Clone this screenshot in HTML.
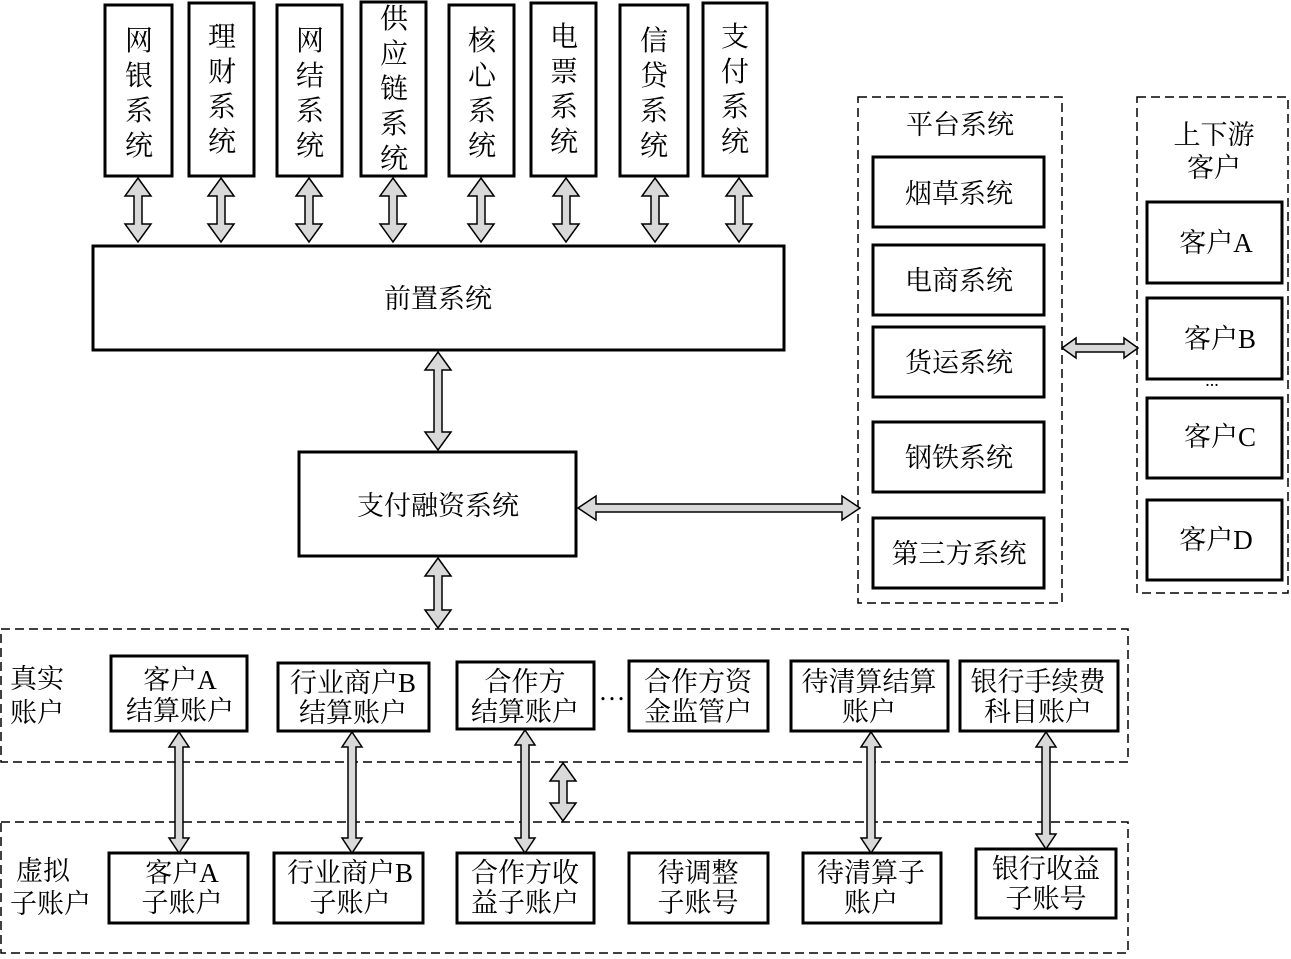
<!DOCTYPE html>
<html><head><meta charset="utf-8"><style>
body{margin:0;background:#fff}
svg text{font-family:"Liberation Serif","Noto Serif CJK SC",serif;fill:#000}
</style></head><body>
<svg width="1291" height="954" viewBox="0 0 1291 954" xmlns="http://www.w3.org/2000/svg">
<g fill="#fff" stroke="#000" stroke-width="3">
<rect x="105" y="5" width="67" height="171"/>
<rect x="189" y="3" width="65" height="173"/>
<rect x="277" y="5" width="65" height="171"/>
<rect x="361" y="2" width="65" height="174"/>
<rect x="449" y="5" width="65" height="171"/>
<rect x="531" y="3" width="65" height="173"/>
<rect x="620" y="5" width="68" height="171"/>
<rect x="703" y="3" width="64" height="173"/>
<rect x="93" y="246" width="691" height="104"/>
<rect x="299" y="452" width="277" height="104"/>
<rect x="873" y="157" width="171" height="70"/>
<rect x="873" y="245" width="171" height="70"/>
<rect x="873" y="327" width="171" height="70"/>
<rect x="873" y="422" width="171" height="70"/>
<rect x="873" y="518" width="171" height="70"/>
<rect x="1147" y="202" width="135" height="81"/>
<rect x="1147" y="298" width="135" height="81"/>
<rect x="1147" y="398" width="135" height="80"/>
<rect x="1147" y="500" width="135" height="80"/>
<rect x="111" y="656" width="136" height="75"/>
<rect x="278" y="663" width="151" height="68"/>
<rect x="457" y="662" width="137" height="67"/>
<rect x="629" y="661" width="139" height="70"/>
<rect x="791" y="661" width="157" height="70"/>
<rect x="960" y="661" width="158" height="70"/>
<rect x="109" y="853" width="139" height="70"/>
<rect x="274" y="853" width="149" height="70"/>
<rect x="457" y="853" width="137" height="70"/>
<rect x="629" y="853" width="139" height="70"/>
<rect x="803" y="853" width="138" height="70"/>
<rect x="976" y="849" width="140" height="69"/>
</g>
<g fill="none" stroke="#000" stroke-width="1.5" stroke-dasharray="9,5">
<rect x="858" y="97" width="204" height="506"/>
<rect x="1137" y="97" width="151" height="496"/>
<rect x="1" y="629" width="1127" height="133"/>
<rect x="1" y="822" width="1127" height="131"/>
</g>
<g fill="#d9d9d9" stroke="#000" stroke-width="1.5">
<!-- vertical arrows: cx, y1, y2 -->
<polygon points="138,178 151,196 142,196 142,224 151,224 138,242 125,224 134,224 134,196 125,196"/>
<polygon points="221,178 234,196 225,196 225,224 234,224 221,242 208,224 217,224 217,196 208,196"/>
<polygon points="309,178 322,196 313,196 313,224 322,224 309,242 296,224 305,224 305,196 296,196"/>
<polygon points="393,178 406,196 397,196 397,224 406,224 393,242 380,224 389,224 389,196 380,196"/>
<polygon points="481,178 494,196 485,196 485,224 494,224 481,242 468,224 477,224 477,196 468,196"/>
<polygon points="566,178 579,196 570,196 570,224 579,224 566,242 553,224 562,224 562,196 553,196"/>
<polygon points="655,178 668,196 659,196 659,224 668,224 655,242 642,224 651,224 651,196 642,196"/>
<polygon points="739,178 752,196 743,196 743,224 752,224 739,242 726,224 735,224 735,196 726,196"/>
<polygon points="438,352 451,370 442,370 442,432 451,432 438,450 425,432 434,432 434,370 425,370"/>
<polygon points="438,558 451,576 442,576 442,610 451,610 438,628 425,610 434,610 434,576 425,576"/>
<polygon points="179,732 189,747 183,747 183,838 189,838 179,853 169,838 175,838 175,747 169,747"/>
<polygon points="352,732 362,747 356,747 356,838 362,838 352,853 342,838 348,838 348,747 342,747"/>
<polygon points="525,730 535,745 529,745 529,838 535,838 525,853 515,838 521,838 521,745 515,745"/>
<polygon points="871,732 881,747 875,747 875,838 881,838 871,853 861,838 867,838 867,747 861,747"/>
<polygon points="1046,732 1056,747 1050,747 1050,834 1056,834 1046,849 1036,834 1042,834 1042,747 1036,747"/>
<polygon points="563,763 576,781 567,781 567,803 576,803 563,821 550,803 559,803 559,781 550,781"/>
<!-- horizontal arrows -->
<polygon points="578,508 596,496 596,504 842,504 842,496 860,508 842,520 842,512 596,512 596,520"/>
<polygon points="1062,348 1076,338 1076,344 1124,344 1124,338 1138,348 1124,358 1124,352 1076,352 1076,358"/>
</g>
<g font-size="28" text-anchor="middle">
<text x="139" y="50">网</text><text x="139" y="85">银</text><text x="139" y="120">系</text><text x="139" y="155">统</text>
<text x="222" y="46">理</text><text x="222" y="81">财</text><text x="222" y="116">系</text><text x="222" y="151">统</text>
<text x="310" y="50">网</text><text x="310" y="85">结</text><text x="310" y="120">系</text><text x="310" y="155">统</text>
<text x="394" y="28">供</text><text x="394" y="63">应</text><text x="394" y="98">链</text><text x="394" y="133">系</text><text x="394" y="168">统</text>
<text x="482" y="50">核</text><text x="482" y="85">心</text><text x="482" y="120">系</text><text x="482" y="155">统</text>
<text x="564" y="46">电</text><text x="564" y="81">票</text><text x="564" y="116">系</text><text x="564" y="151">统</text>
<text x="654" y="50">信</text><text x="654" y="85">贷</text><text x="654" y="120">系</text><text x="654" y="155">统</text>
<text x="735" y="46">支</text><text x="735" y="81">付</text><text x="735" y="116">系</text><text x="735" y="151">统</text>
</g>
<g font-size="27" text-anchor="middle">
<text x="438" y="308">前置系统</text>
<text x="438" y="515">支付融资系统</text>
<text x="960" y="134">平台系统</text>
<text x="959" y="203">烟草系统</text>
<text x="959" y="290">电商系统</text>
<text x="959" y="372">货运系统</text>
<text x="959" y="467">钢铁系统</text>
<text x="959" y="563">第三方系统</text>
<text x="1214" y="144">上下游</text>
<text x="1214" y="177">客户</text>
<text x="1216" y="252">客户A</text>
<text x="1220" y="348">客户B</text>
<text x="1220" y="446">客户C</text>
<text x="1216" y="549">客户D</text>
<text x="1212" y="386" font-size="18">...</text>
</g>
<g font-size="27">
<text x="10" y="688">真实</text><text x="10" y="722">账户</text>
<text x="16" y="880">虚拟</text><text x="10" y="913">子账户</text>
</g>
<g font-size="27" text-anchor="middle">
<text x="180" y="689">客户A</text><text x="180" y="720">结算账户</text>
<text x="353" y="692">行业商户B</text><text x="353" y="722">结算账户</text>
<text x="525" y="691">合作方</text><text x="525" y="721">结算账户</text>
<text x="612" y="700">…</text>
<text x="698" y="691">合作方资</text><text x="698" y="721">金监管户</text>
<text x="869" y="691">待清算结算</text><text x="869" y="721">账户</text>
<text x="1038" y="691">银行手续费</text><text x="1038" y="721">科目账户</text>
<text x="182" y="882">客户A</text><text x="182" y="912">子账户</text>
<text x="350" y="882">行业商户B</text><text x="350" y="912">子账户</text>
<text x="525" y="882">合作方收</text><text x="525" y="912">益子账户</text>
<text x="698" y="882">待调整</text><text x="698" y="912">子账号</text>
<text x="871" y="882">待清算子</text><text x="871" y="912">账户</text>
<text x="1046" y="878">银行收益</text><text x="1046" y="908">子账号</text>
</g>
</svg>
</body></html>
